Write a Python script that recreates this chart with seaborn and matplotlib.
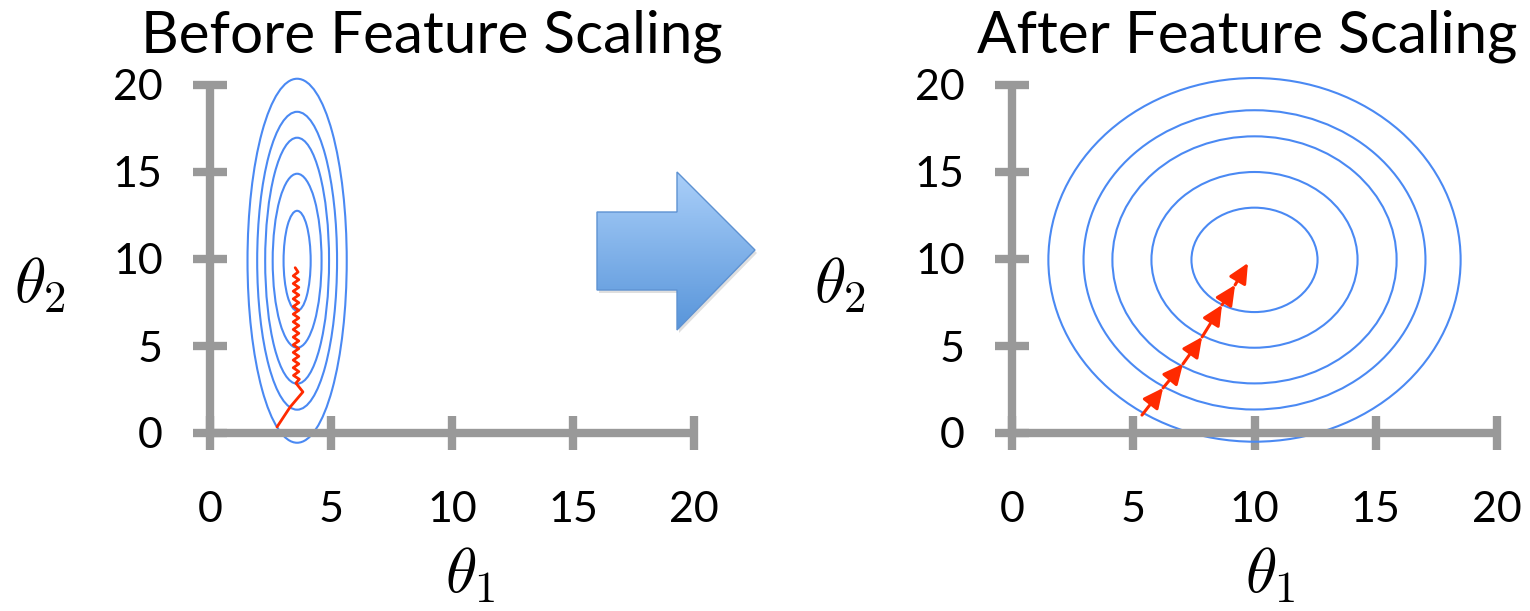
import numpy as np
import seaborn as sns
import matplotlib.pyplot as plt
from matplotlib.patches import Ellipse, Polygon
from matplotlib.colors import LinearSegmentedColormap

sns.set_theme(style='white')
plt.rcParams['font.family'] = ['Lato', 'DejaVu Sans']
plt.rcParams['mathtext.fontset'] = 'cm'

# contour ellipses: centre and semi-axes (theta1, theta2)
before_center = (3.6, 9.9)
before_a = [2.05, 1.65, 1.32, 1.01, 0.56]
before_b = [10.46, 8.56, 7.07, 5.0, 2.87]
after_center = (10.0, 9.95)
after_a = [8.5, 7.05, 5.86, 4.25, 2.6]
after_b = [10.45, 8.6, 7.1, 5.05, 3.0]

# gradient descent path before scaling (zig-zag)
before_x = [2.77, 3.31, 3.84, 3.55, 3.69, 3.45, 3.67, 3.44, 3.67, 3.44, 3.67, 3.44,
            3.67, 3.44, 3.67, 3.44, 3.67, 3.44, 3.67, 3.44, 3.67, 3.44, 3.67, 3.44,
            3.67, 3.44, 3.67, 3.44, 3.67, 3.44, 3.67, 3.44, 3.64, 3.52]
before_y = [0.35, 1.49, 2.36, 2.87, 3.09, 3.31, 3.53, 3.75, 3.97, 4.19, 4.41, 4.63,
            4.85, 5.07, 5.29, 5.51, 5.73, 5.95, 6.17, 6.39, 6.61, 6.83, 7.05, 7.27,
            7.49, 7.71, 7.93, 8.15, 8.37, 8.59, 8.81, 9.03, 9.25, 9.5]

# gradient descent steps after scaling
after_x = [5.36, 6.23, 7.05, 7.84, 8.66, 9.20, 9.73]
after_y = [1.03, 2.59, 3.97, 5.52, 7.36, 8.51, 9.77]

ticks = [0, 5, 10, 15, 20]
titles = ['Before Feature Scaling', 'After Feature Scaling']

blue = '#4a89f3'
red = '#ff2a00'
grey = '#999999'

W, H = 1530, 611
fig = plt.figure(figsize=(W / 100, H / 100), dpi=100)


def make_axes(x0, sx, y0=433, sy=17.4):
    xmin, xmax, ymin, ymax = -1, 21, -1.5, 21
    left = x0 + sx * xmin
    bottom = y0 - sy * ymin
    top = y0 - sy * ymax
    ax = fig.add_axes([left / W, (H - bottom) / H, sx * (xmax - xmin) / W, (bottom - top) / H])
    ax.set_xlim(xmin, xmax)
    ax.set_ylim(ymin, ymax)
    ax.patch.set_alpha(0)
    for s in ['top', 'right']:
        ax.spines[s].set_visible(False)
    for s in ['left', 'bottom']:
        ax.spines[s].set_position(('data', 0))
        ax.spines[s].set_color(grey)
        ax.spines[s].set_linewidth(6)
        ax.spines[s].set_capstyle('butt')
    ax.spines['left'].set_bounds(0, 20)
    ax.spines['bottom'].set_bounds(0, 20)
    ax.set_xticks(ticks)
    ax.set_yticks(ticks)
    ax.tick_params(axis='both', bottom=True, left=True, direction='inout', length=24,
                   width=6, color=grey, labelsize=31, labelcolor='black')
    ax.tick_params(axis='x', pad=30)
    ax.tick_params(axis='y', pad=22)
    ax.set_xlabel('')
    ax.set_ylabel('')
    return ax


ax1 = make_axes(210, 24.2)
ax2 = make_axes(1012, 24.25)

for ax, c, aa, bb in [(ax1, before_center, before_a, before_b),
                      (ax2, after_center, after_a, after_b)]:
    for a, b in zip(aa, bb):
        ax.add_patch(Ellipse(c, 2 * a, 2 * b, fill=False, edgecolor=blue, lw=1.5, clip_on=False))

sns.lineplot(x=before_x, y=before_y, sort=False, estimator=None, color=red, lw=2, ax=ax1)

for i in range(len(after_x) - 1):
    ax2.annotate('', xy=(after_x[i + 1], after_y[i + 1]), xytext=(after_x[i], after_y[i]),
                 arrowprops=dict(arrowstyle='-|>,head_length=1.0,head_width=0.48',
                                 color=red, lw=2.2, shrinkA=0, shrinkB=0))

# titles and axis labels
for cx, t in zip([432, 1247], titles):
    fig.text(cx / W, 1 - 36 / H, t, ha='center', va='center', fontsize=42, color='black')
for lx, bx in [(40, 470), (840, 1270)]:
    fig.text(lx / W, 1 - 285 / H, r'$\theta_2$', ha='center', va='center', fontsize=46, color='black')
    fig.text(bx / W, 1 - 575 / H, r'$\theta_1$', ha='center', va='center', fontsize=46, color='black')

# big blue arrow between the panels
ov = fig.add_axes([0, 0, 1, 1])
ov.axis('off')
pts = [(597, 212), (677, 212), (677, 172), (755, 250), (677, 330), (677, 290), (597, 290)]
shadow = Polygon([(x + 2, y + 3) for x, y in pts], closed=True, fc='#00000020', ec='none')
ov.add_patch(shadow)
arrow = Polygon(pts, closed=True, fc='none', ec='#5e92d2', lw=1, zorder=3)
ov.add_patch(arrow)
grad = np.linspace(0, 1, 256).reshape(-1, 1)
cmap = LinearSegmentedColormap.from_list('arrow', ['#aacff9', '#5895da'])
im = ov.imshow(grad, cmap=cmap, extent=(597, 755, 330, 172), aspect='auto',
               interpolation='bilinear', zorder=2)
im.set_clip_path(arrow)
ov.set_xlim(0, W)
ov.set_ylim(H, 0)

fig.savefig('out.png', dpi=100)
